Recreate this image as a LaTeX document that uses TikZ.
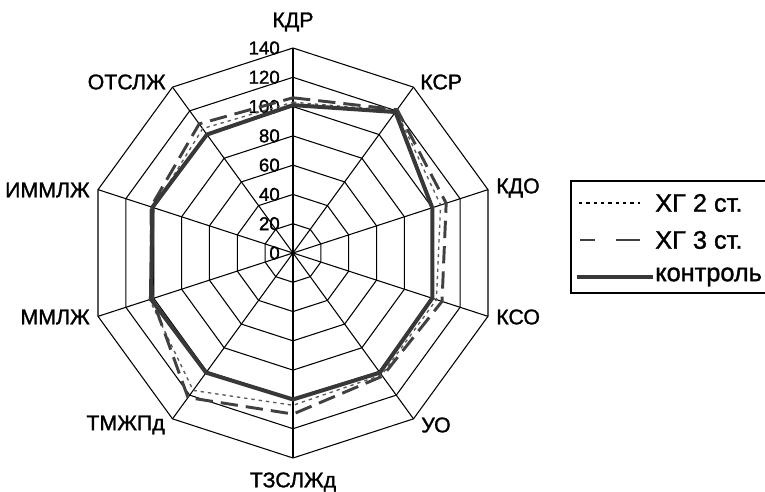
\documentclass[tikz,border=0pt]{standalone}
\usepackage{fontspec}
\setmainfont{Liberation Sans}
\newfontfamily\heavyfont[FakeBold=1.3]{Liberation Sans}
\usetikzlibrary{calc}

\tikzset{
  webline/.style={black, line width=0.8pt},
  ctrl/.style={line width=3pt, draw=black!78, line join=round},
  hgthree/.style={line width=2.2pt, draw=black!75, dash pattern=on 13pt off 6pt},
  hgtwo/.style={line width=1pt, draw=black!65, dash pattern=on 2.5pt off 3pt},
  axlabel/.style={font=\heavyfont\fontsize{16}{18}\selectfont, inner sep=0pt},
  ticklabel/.style={font=\heavyfont\fontsize{14}{16}\selectfont, inner sep=0pt, anchor=east},
  legtext/.style={font=\heavyfont\fontsize{19}{21}\selectfont, inner sep=0pt, anchor=west},
}
\newcommand{\rs}{1.4643}

\begin{document}
\begin{tikzpicture}[x=0.75pt, y=0.75pt]
  \useasboundingbox (-293,-239) rectangle (472,253);

  % web
  \foreach \v in {20,40,...,140}
    \draw [webline] ({90}:{\v*\rs}) \foreach \a in {54,18,...,-234} { -- ({\a}:{\v*\rs}) } -- cycle;
  \foreach \a in {90,54,...,-234}
    \draw [webline] (0,0) -- ({\a}:{140*\rs});

  \foreach \v in {0,20,...,140}
    \node [ticklabel] (t\v) at (-13,{\v*\rs}) {\v};

  % axis labels
  \node [axlabel] (kdr) at (0,231) {КДР};
  \node [axlabel, anchor=west] (ksr) at (127,171) {КСР};
  \node [axlabel, anchor=west] (kdo) at (203,65) {КДО};
  \node [axlabel, anchor=west] (kso) at (203,-64) {КСО};
  \node [axlabel, anchor=west] (uo) at (128,-172) {УО};
  \node [axlabel] (tzs) at (0,-229) {ТЗСЛЖд};
  \node [axlabel, anchor=east] (tmz) at (-128,-172) {ТМЖПд};
  \node [axlabel, anchor=east] (mml) at (-203,-64) {ММЛЖ};
  \node [axlabel, anchor=east] (imm) at (-203,63) {ИММЛЖ};
  \node [axlabel, anchor=east] (ots) at (-127,171) {ОТСЛЖ};

  % series
  \foreach \v [count=\i from 0] in {103,120,106,103,103,104,116,103,100,105}
    \coordinate (a\i) at ({90-36*\i}:{\v*\rs});
  \foreach \v [count=\i from 0] in {106,121,110,107,104,110,122,101,102,109}
    \coordinate (b\i) at ({90-36*\i}:{\v*\rs});
  \foreach \v [count=\i from 0] in {101,119,100,100,101,100,101,102,101,100}
    \coordinate (c\i) at ({90-36*\i}:{\v*\rs});

  \draw [hgtwo] (a0) -- (a1) -- (a2) -- (a3) -- (a4) -- (a5) -- (a6) -- (a7) -- (a8) -- (a9) -- cycle;
  \draw [hgthree] (b0) -- (b1) -- (b2) -- (b3) -- (b4) -- (b5) -- (b6) -- (b7) -- (b8) -- (b9) -- cycle;
  \draw [ctrl] (c0) -- (c1) -- (c2) -- (c3) -- (c4) -- (c5) -- (c6) -- (c7) -- (c8) -- (c9) -- cycle;

  % legend
  \draw [webline] (278,72) rectangle (490,-40);
  \coordinate (l2a) at (286,50);
  \coordinate (l2b) at (347,50);
  \coordinate (l3a) at (287,13);
  \coordinate (l3b) at (347,13);
  \coordinate (lca) at (284,-24);
  \coordinate (lcb) at (360,-24);
  \draw [hgtwo, draw=black] (l2a) -- (l2b);
  \draw [hgthree, dash pattern=on 11pt off 16pt on 18pt] (l3a) -- (l3b);
  \draw [ctrl] (lca) -- (lcb);
  \node [legtext] (leg2) at (362,50) {ХГ 2 ст.};
  \node [legtext] (leg3) at (362,13) {ХГ 3 ст.};
  \node [legtext] (legc) at (362,-24) {контроль};
\end{tikzpicture}
\end{document}
